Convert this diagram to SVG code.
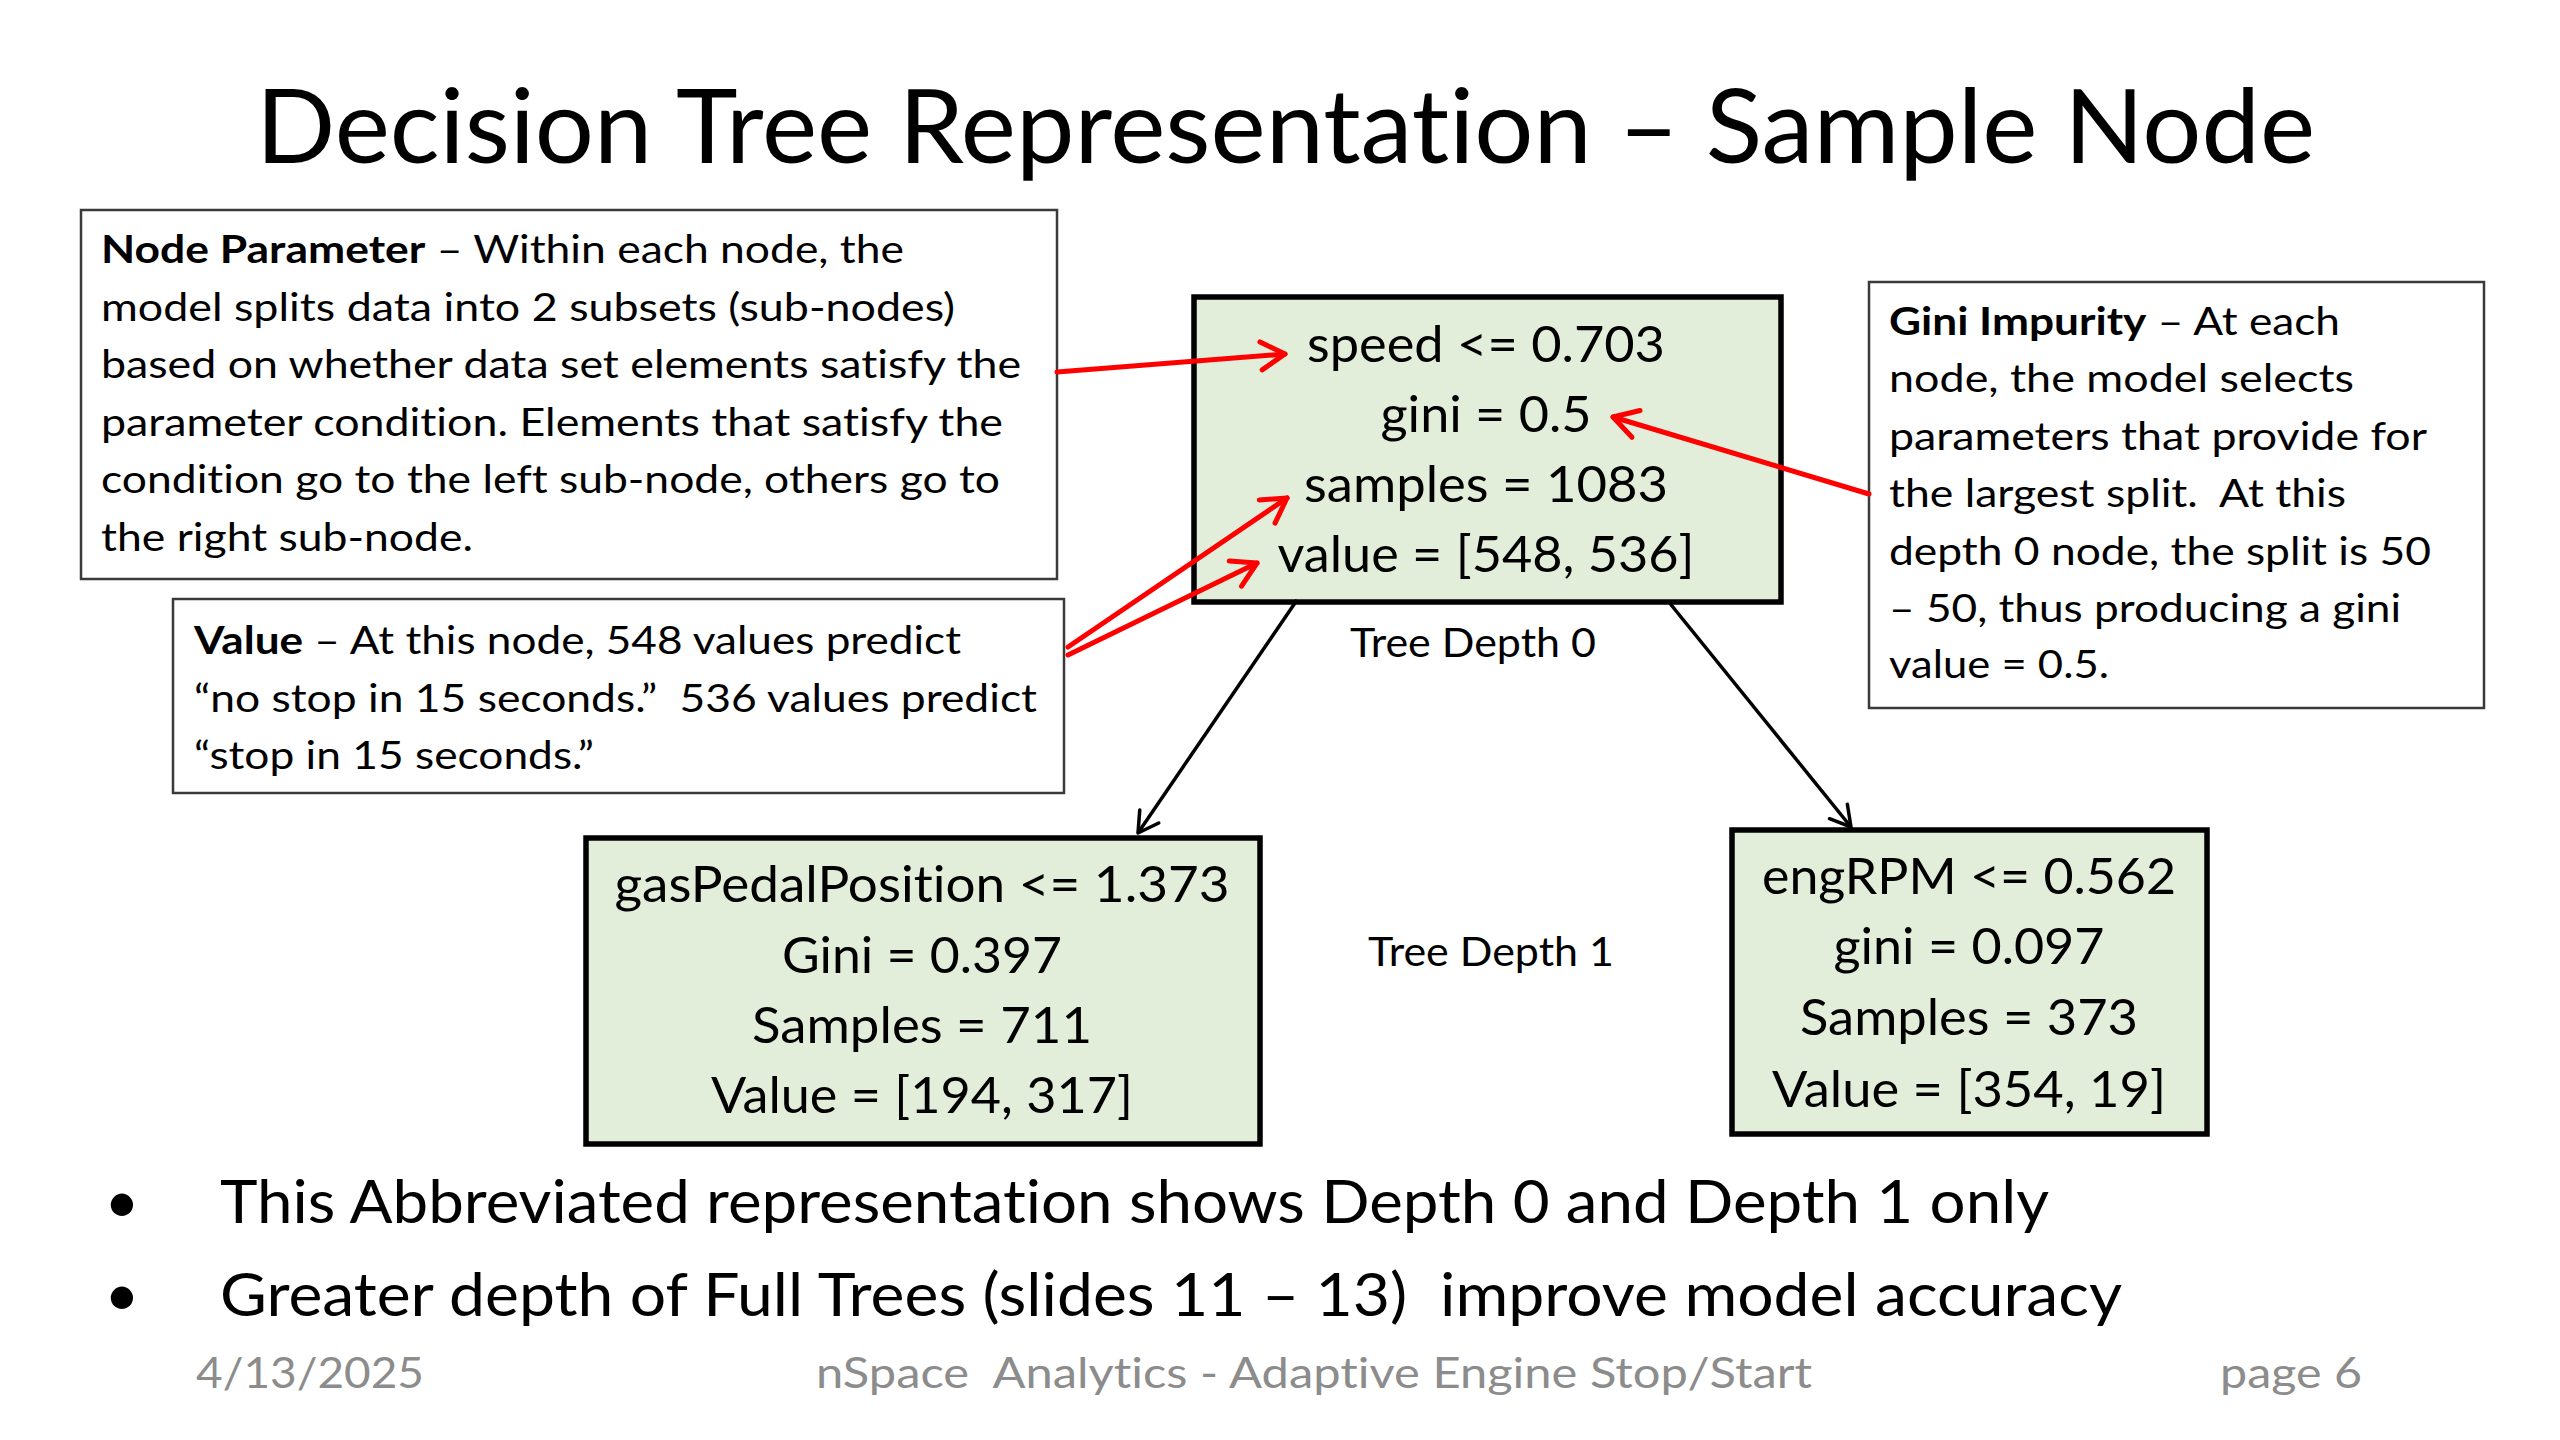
<svg xmlns="http://www.w3.org/2000/svg" width="2560" height="1440" viewBox="0 0 2560 1440">
<style>
text{font-family:"Lato","Liberation Sans",sans-serif;fill:#000;white-space:pre;font-variant-ligatures:none}
.title{font-size:103px}
.call{font-size:39px}
.b{font-weight:bold}
.callbox{fill:#fff;stroke:#3a3a3a;stroke-width:2.5}
.nodebox{fill:#e2eed9;stroke:#000;stroke-width:5.5}
.nt{font-size:50px;text-anchor:middle}
.depth{font-size:40px}
.bul{font-size:60px}
.foot{font-size:42px;fill:#8c8c8c}
.red{stroke:#ff0000;stroke-width:5;fill:none;stroke-linecap:round;marker-end:url(#arrRed)}
.blk{stroke:#000;stroke-width:3.5;fill:none;marker-end:url(#arrBlack)}
</style>
<defs>
<marker id="arrRed" viewBox="-4 -4 34 36" refX="24" refY="14" markerWidth="34" markerHeight="36" markerUnits="userSpaceOnUse" orient="auto">
<path d="M0,0 L24,14 L0,28" fill="none" stroke="#ff0000" stroke-width="5" stroke-linecap="round" stroke-linejoin="round"/>
</marker>
<marker id="arrBlack" viewBox="-3 -3 26 29" refX="20" refY="11.5" markerWidth="26" markerHeight="29" markerUnits="userSpaceOnUse" orient="auto">
<path d="M0,0 L20,11.5 L0,23" fill="none" stroke="#000" stroke-width="3.5" stroke-linecap="round" stroke-linejoin="round"/>
</marker>
</defs>
<rect width="2560" height="1440" fill="#fff"/>
<text class="title" x="256" y="163" textLength="2059" lengthAdjust="spacingAndGlyphs">Decision Tree Representation – Sample Node</text>

<g id="callout-node-parameter">
<rect class="callbox" x="81" y="210" width="976" height="369"/>
<text class="call" x="101" y="263" textLength="803" lengthAdjust="spacingAndGlyphs"><tspan class="b">Node Parameter</tspan> – Within each node, the</text>
<text class="call" x="101" y="320.5" textLength="854" lengthAdjust="spacingAndGlyphs">model splits data into 2 subsets (sub-nodes)</text>
<text class="call" x="101" y="378" textLength="920" lengthAdjust="spacingAndGlyphs">based on whether data set elements satisfy the</text>
<text class="call" x="101" y="435.5" textLength="902" lengthAdjust="spacingAndGlyphs">parameter condition. Elements that satisfy the</text>
<text class="call" x="101" y="493" textLength="899" lengthAdjust="spacingAndGlyphs">condition go to the left sub-node, others go to</text>
<text class="call" x="101" y="550.5" textLength="372" lengthAdjust="spacingAndGlyphs">the right sub-node.</text>
</g>

<g id="callout-value">
<rect class="callbox" x="173" y="599" width="891" height="194"/>
<text class="call" x="194" y="654" textLength="767" lengthAdjust="spacingAndGlyphs"><tspan class="b">Value</tspan> – At this node, 548 values predict</text>
<text class="call" x="194" y="711.5" textLength="843" lengthAdjust="spacingAndGlyphs">“no stop in 15 seconds.”  536 values predict</text>
<text class="call" x="194" y="769" textLength="400" lengthAdjust="spacingAndGlyphs">“stop in 15 seconds.”</text>
</g>

<g id="callout-gini">
<rect class="callbox" x="1869" y="282" width="615" height="426"/>
<text class="call" x="1889" y="335" textLength="451" lengthAdjust="spacingAndGlyphs"><tspan class="b">Gini Impurity</tspan> – At each</text>
<text class="call" x="1889" y="392" textLength="465" lengthAdjust="spacingAndGlyphs">node, the model selects</text>
<text class="call" x="1889" y="450" textLength="538" lengthAdjust="spacingAndGlyphs">parameters that provide for</text>
<text class="call" x="1889" y="507" textLength="457" lengthAdjust="spacingAndGlyphs">the largest split.  At this</text>
<text class="call" x="1889" y="565" textLength="542" lengthAdjust="spacingAndGlyphs">depth 0 node, the split is 50</text>
<text class="call" x="1889" y="622" textLength="512" lengthAdjust="spacingAndGlyphs">– 50, thus producing a gini</text>
<text class="call" x="1889" y="678" textLength="220" lengthAdjust="spacingAndGlyphs">value = 0.5.</text>
</g>

<g id="node-root">
<rect class="nodebox" x="1194" y="297" width="587" height="305"/>
<text class="nt" x="1486" y="362" textLength="358" lengthAdjust="spacingAndGlyphs">speed &lt;= 0.703</text>
<text class="nt" x="1486" y="432" textLength="211" lengthAdjust="spacingAndGlyphs">gini = 0.5</text>
<text class="nt" x="1486" y="502" textLength="364" lengthAdjust="spacingAndGlyphs">samples = 1083</text>
<text class="nt" x="1486" y="572" textLength="417" lengthAdjust="spacingAndGlyphs">value = [548, 536]</text>
</g>

<g id="node-left">
<rect class="nodebox" x="586" y="838" width="674" height="306"/>
<text class="nt" x="922" y="902" textLength="615" lengthAdjust="spacingAndGlyphs">gasPedalPosition &lt;= 1.373</text>
<text class="nt" x="922" y="973" textLength="280" lengthAdjust="spacingAndGlyphs">Gini = 0.397</text>
<text class="nt" x="922" y="1043" textLength="340" lengthAdjust="spacingAndGlyphs">Samples = 711</text>
<text class="nt" x="922" y="1113" textLength="422" lengthAdjust="spacingAndGlyphs">Value = [194, 317]</text>
</g>

<g id="node-right">
<rect class="nodebox" x="1732" y="830" width="475" height="304"/>
<text class="nt" x="1969" y="894" textLength="414" lengthAdjust="spacingAndGlyphs">engRPM &lt;= 0.562</text>
<text class="nt" x="1969" y="964" textLength="271" lengthAdjust="spacingAndGlyphs">gini = 0.097</text>
<text class="nt" x="1969" y="1035" textLength="338" lengthAdjust="spacingAndGlyphs">Samples = 373</text>
<text class="nt" x="1969" y="1107" textLength="394" lengthAdjust="spacingAndGlyphs">Value = [354, 19]</text>
</g>

<g id="label-depth0"><text class="depth" x="1350" y="657" textLength="246" lengthAdjust="spacingAndGlyphs">Tree Depth 0</text></g>
<g id="label-depth1"><text class="depth" x="1368" y="966" textLength="246" lengthAdjust="spacingAndGlyphs">Tree Depth 1</text></g>

<g id="connectors">
<line class="red" x1="1057" y1="372" x2="1285" y2="354"/>
<line class="red" x1="1869" y1="494" x2="1613" y2="417"/>
<line class="red" x1="1068" y1="647" x2="1287" y2="498"/>
<line class="red" x1="1068" y1="655" x2="1257" y2="563"/>
<line class="blk" x1="1297" y1="600" x2="1138" y2="833"/>
<line class="blk" x1="1668" y1="601" x2="1851" y2="827"/>
</g>

<g id="bullets">
<text class="bul" x="122" y="1223" text-anchor="middle">•</text>
<text class="bul" x="220" y="1223" textLength="1829" lengthAdjust="spacingAndGlyphs">This Abbreviated representation shows Depth 0 and Depth 1 only</text>
<text class="bul" x="122" y="1316" text-anchor="middle">•</text>
<text class="bul" x="220" y="1316" textLength="1902" lengthAdjust="spacingAndGlyphs">Greater depth of Full Trees (slides 11 – 13)  improve model accuracy</text>
</g>

<g id="footer">
<text class="foot" x="196" y="1388" textLength="228" lengthAdjust="spacingAndGlyphs">4/13/2025</text>
<text class="foot" x="816" y="1388" textLength="996" lengthAdjust="spacingAndGlyphs">nSpace  Analytics - Adaptive Engine Stop/Start</text>
<text class="foot" x="2220" y="1388" textLength="142" lengthAdjust="spacingAndGlyphs">page 6</text>
</g>
</svg>
